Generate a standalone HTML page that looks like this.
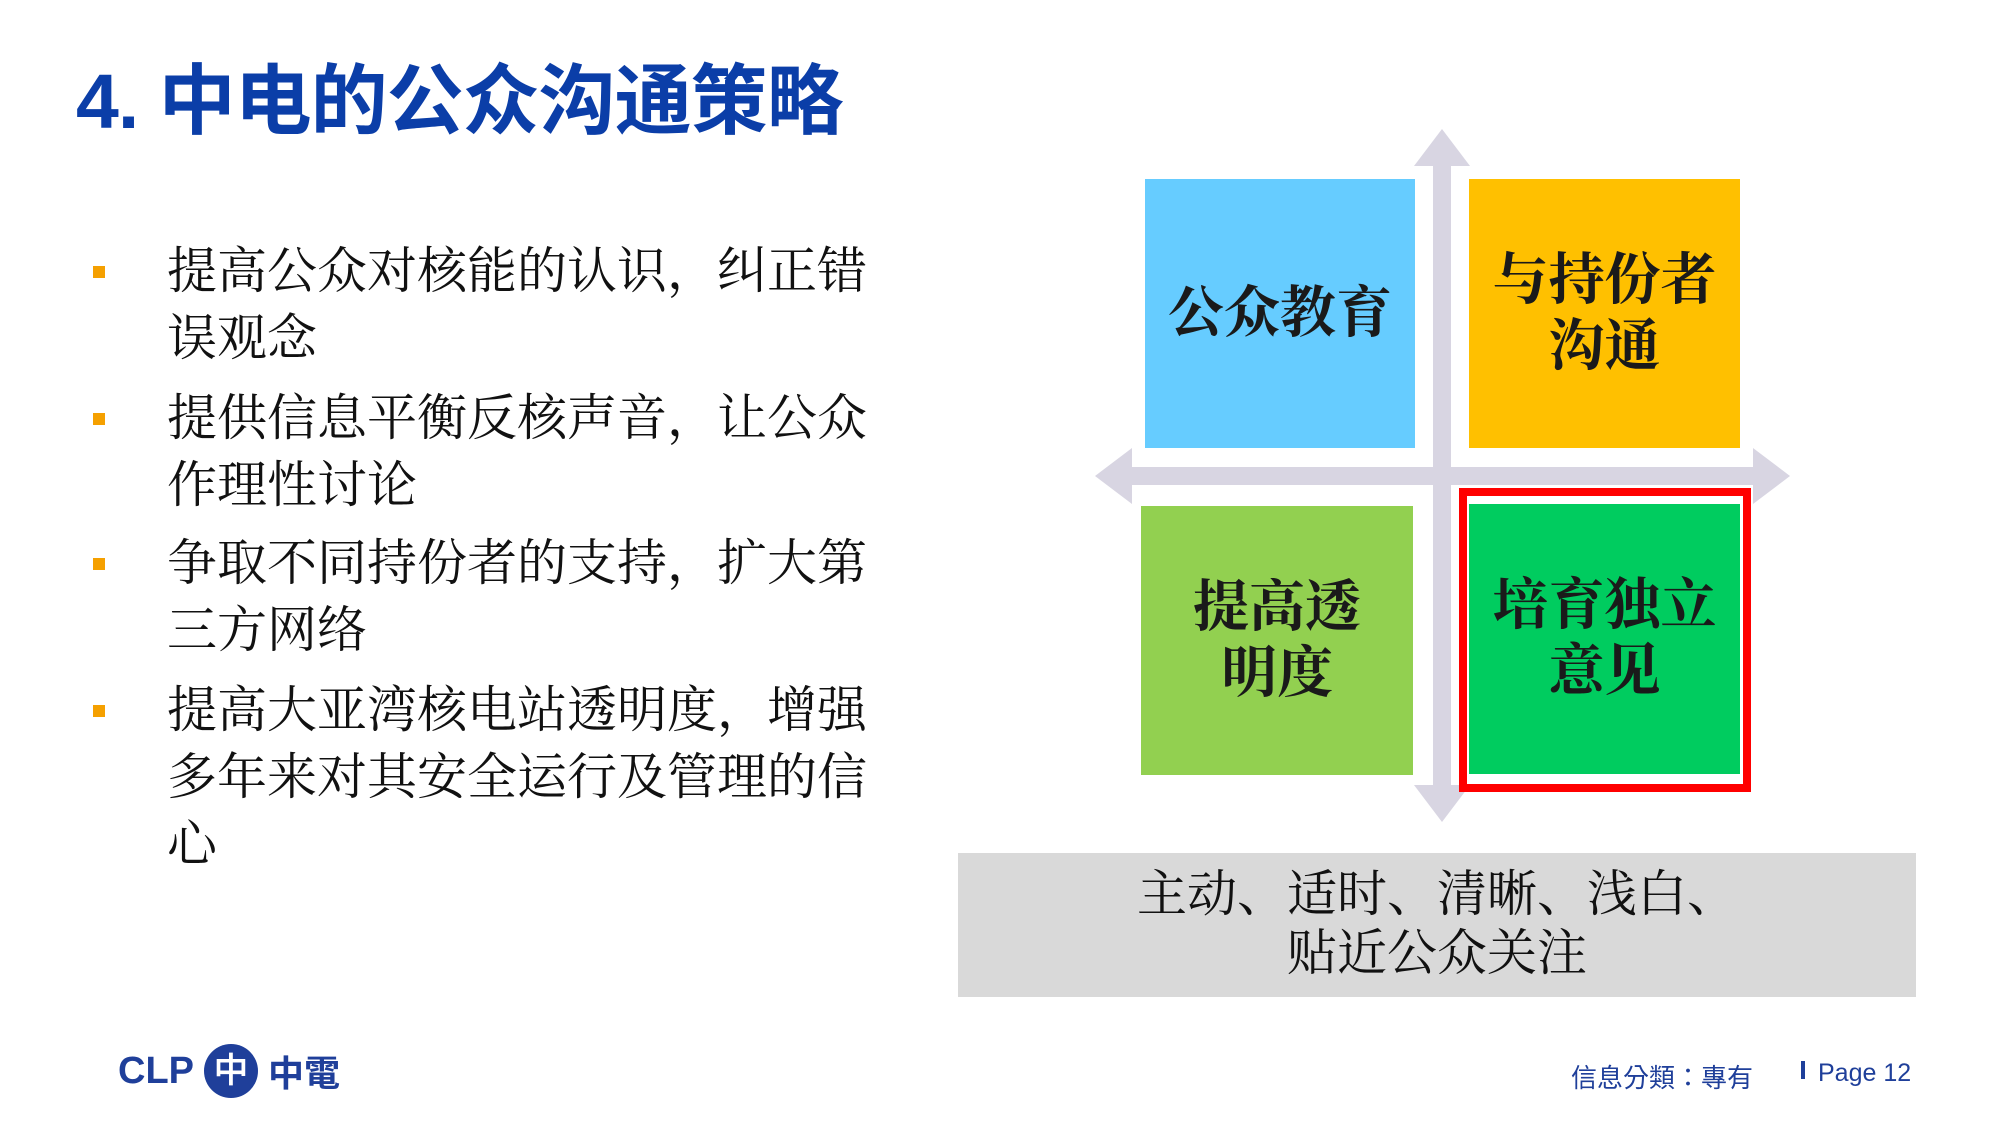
<!DOCTYPE html>
<html><head><meta charset="utf-8"><style>
body{margin:0;width:2000px;height:1125px;background:#fff;position:relative;overflow:hidden}
.a{position:absolute;white-space:nowrap}
.t{left:76px;top:40px;font:bold 77px "Liberation Sans","Noto Sans CJK SC",sans-serif;color:#0b3ea8;letter-spacing:-1px}
.b{left:167px;font:50px "Liberation Serif","Noto Serif CJK SC",serif;color:#111;line-height:67px}
.sq{position:absolute;left:93px;width:12px;height:12px;background:#f5a000}
.box{position:absolute;display:flex;align-items:center;justify-content:center;text-align:center;font:bold 56px "Liberation Serif","Noto Serif CJK SC",serif;color:#1a1a1a;line-height:66px}
.f{font:26px "Liberation Sans","Noto Sans CJK TC",sans-serif;color:#1f3f9a}
</style></head><body>
<div class="a t">4. 中电的公众沟通策略</div>
<div class="sq" style="top:266px"></div>
<div class="sq" style="top:413px"></div>
<div class="sq" style="top:558px"></div>
<div class="sq" style="top:705px"></div>
<div class="a b" style="top:238px">提高公众对核能的认识，纠正错<br>误观念</div>
<div class="a b" style="top:385px">提供信息平衡反核声音，让公众<br>作理性讨论</div>
<div class="a b" style="top:530px">争取不同持份者的支持，扩大第<br>三方网络</div>
<div class="a b" style="top:677px">提高大亚湾核电站透明度，增强<br>多年来对其安全运行及管理的信<br>心</div>
<svg class="a" style="left:0;top:0" width="2000" height="1125">
<g fill="#d8d5e2">
<rect x="1433" y="165" width="18" height="622"/>
<polygon points="1442,129 1414,166 1470,166"/>
<polygon points="1442,822 1414,785 1470,785"/>
<rect x="1130" y="467" width="625" height="18"/>
<polygon points="1095,476 1132,448 1132,504"/>
<polygon points="1790,476 1753,448 1753,504"/>
</g>
<rect x="1463" y="492" width="284" height="296" fill="none" stroke="#ff0000" stroke-width="8"/>
</svg>
<div class="box" style="left:1145px;top:179px;width:270px;height:269px;background:#66ccff">公众教育</div>
<div class="box" style="left:1469px;top:179px;width:271px;height:269px;background:#ffc000">与持份者<br>沟通</div>
<div class="box" style="left:1141px;top:506px;width:272px;height:269px;background:#92d050">提高透<br>明度</div>
<div class="box" style="left:1469px;top:504px;width:271px;height:270px;background:#00cc5f">培育独立<br>意见</div>
<div class="a" style="left:958px;top:853px;width:958px;height:144px;background:#d9d9d9;text-align:center;font:50px 'Liberation Serif','Noto Serif CJK SC',serif;color:#111;line-height:59px;padding-top:12px;box-sizing:border-box">主动、适时、清晰、浅白、<br>贴近公众关注</div>
<div class="a" style="left:118px;top:1044px;font:bold 38px 'Liberation Sans',sans-serif;color:#1f3f9a;display:flex;align-items:center">CLP<span style="display:inline-block;width:54px;height:54px;border-radius:50%;background:#1f3f9a;color:#fff;font-size:34px;text-align:center;line-height:54px;margin:0 10px">中</span><span style="font-family:'Noto Sans CJK TC',sans-serif;font-size:36px">中電</span></div>
<div class="a f" style="left:1571px;top:1058px">信息分類：專有</div>
<div class="a" style="left:1801px;top:1061px;width:4px;height:18px;background:#1f3f9a"></div>
<div class="a f" style="left:1818px;top:1059px;font-size:25px">Page 12</div>
</body></html>
